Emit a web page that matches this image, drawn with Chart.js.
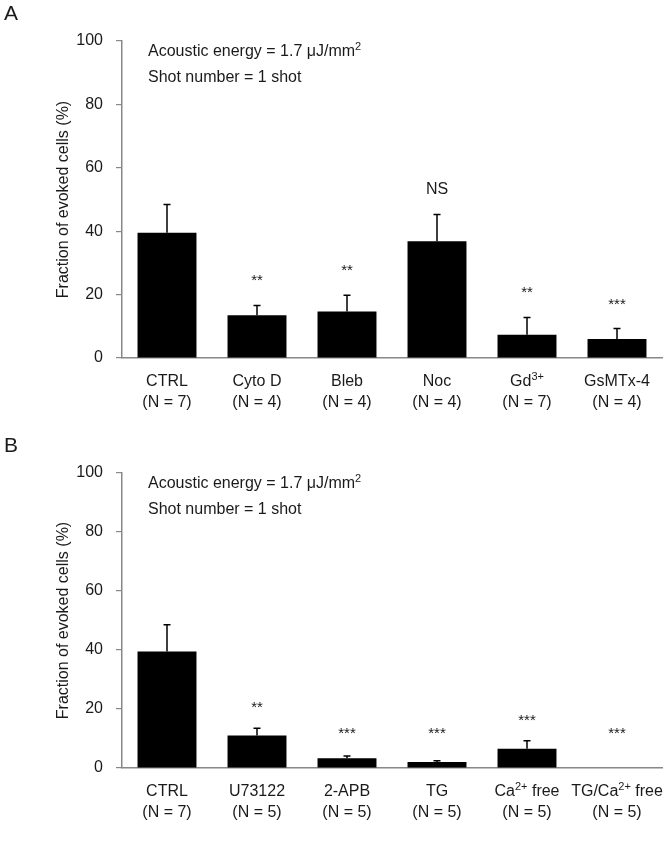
<!DOCTYPE html>
<html>
<head>
<meta charset="utf-8">
<script src="https://cdn.jsdelivr.net/npm/chart.js@4.4.1/dist/chart.umd.min.js"></script>
<style>
  body { margin: 0; background: #fff; }
  canvas { display: block; }
</style>
</head>
<body>
<canvas id="chartA" width="664" height="432"></canvas>
<canvas id="chartB" width="664" height="410"></canvas>
<script>
// values (mean and upper error, %)
const yTicks = [0, 20, 40, 60, 80, 100];

const categoriesA = ['CTRL', 'Cyto D', 'Bleb', 'Noc', 'Gd^3+', 'GsMTx-4'];
const countsA = ['(N = 7)', '(N = 4)', '(N = 4)', '(N = 4)', '(N = 7)', '(N = 4)'];
const meansA = [39.5, 13.5, 14.7, 36.8, 7.3, 6.0];
const errorsA = [8.9, 3.1, 5.1, 8.5, 5.5, 3.3];
const marksA = ['', '**', '**', 'NS', '**', '***'];

const categoriesB = ['CTRL', 'U73122', '2-APB', 'TG', 'Ca^2+ free', 'TG/Ca^2+ free'];
const countsB = ['(N = 7)', '(N = 5)', '(N = 5)', '(N = 5)', '(N = 5)', '(N = 5)'];
const meansB = [39.5, 11.0, 3.3, 2.0, 6.5, 0];
const errorsB = [9.1, 2.5, 0.8, 0.5, 2.7, 0];
const marksB = ['', '**', '***', '***', '***', '***'];

const notes = ['Acoustic energy = 1.7 μJ/mm^2', 'Shot number = 1 shot'];

const FONT = '"Liberation Sans", Arial, sans-serif';
const AXIS = '#888';
const TEXT = '#1a1a1a';

// text with "^xx" superscripts, y is the vertical middle
function drawRich(ctx, text, x, y, size, align) {
    const parts = text.split(/\^(\S+)/);
    const supSize = Math.round(size * 0.68);
    let total = 0;
    parts.forEach((p, i) => {
        ctx.font = (i % 2 ? supSize : size) + 'px ' + FONT;
        total += ctx.measureText(p).width;
    });
    let cx = align === 'center' ? x - total / 2 : x;
    ctx.textAlign = 'left';
    ctx.textBaseline = 'middle';
    parts.forEach((p, i) => {
        const sup = i % 2 === 1;
        ctx.font = (sup ? supSize : size) + 'px ' + FONT;
        ctx.fillText(p, cx, sup ? y - size * 0.33 : y);
        cx += ctx.measureText(p).width;
    });
}

function makeChart(id, letter, categories, counts, means, errors, marks, markGap) {
    const extras = {
        id: 'extras',
        afterDatasetsDraw(chart) {
            const { ctx, scales: { x, y } } = chart;
            ctx.save();
            ctx.strokeStyle = '#000';
            ctx.lineWidth = 1.5;
            errors.forEach((e, i) => {
                if (!e) return;
                const px = x.getPixelForValue(i);
                const top = y.getPixelForValue(means[i] + e);
                ctx.beginPath();
                ctx.moveTo(px, y.getPixelForValue(means[i]));
                ctx.lineTo(px, top);
                ctx.moveTo(px - 3.5, top);
                ctx.lineTo(px + 3.5, top);
                ctx.stroke();
            });
            ctx.restore();
        },
        afterDraw(chart) {
            const { ctx, scales: { x, y }, chartArea } = chart;
            ctx.save();
            ctx.fillStyle = TEXT;

            // panel letter
            ctx.font = '21px ' + FONT;
            ctx.textAlign = 'left';
            ctx.textBaseline = 'top';
            ctx.fillText(letter, 4, 4);

            // significance marks
            ctx.textAlign = 'center';
            ctx.textBaseline = 'alphabetic';
            marks.forEach((m, i) => {
                if (!m) return;
                const px = x.getPixelForValue(i);
                let base = y.getPixelForValue(means[i] + errors[i]) - markGap;
                base = Math.min(base, chartArea.bottom - 30);
                ctx.font = (m === 'NS' ? 16 : 15) + 'px ' + FONT;
                ctx.fillText(m, px, base);
            });

            // category labels
            categories.forEach((c, i) => {
                const px = x.getPixelForValue(i);
                drawRich(ctx, c, px, chartArea.bottom + 24, 16, 'center');
                drawRich(ctx, counts[i], px, chartArea.bottom + 45, 16, 'center');
            });

            // condition notes
            notes.forEach((n, i) => {
                drawRich(ctx, n, 148, chartArea.top + 11 + i * 26, 16, 'left');
            });
            ctx.restore();
        }
    };

    return new Chart(document.getElementById(id), {
        type: 'bar',
        data: {
            labels: categories,
            datasets: [{
                data: means,
                backgroundColor: '#000',
                borderWidth: 0,
                categoryPercentage: 1,
                barPercentage: 0.655
            }]
        },
        options: {
            responsive: false,
            animation: false,
            layout: { padding: { top: 41, right: 2, left: 0, bottom: 0 } },
            plugins: {
                legend: { display: false },
                tooltip: { enabled: false }
            },
            scales: {
                x: {
                    grid: { display: false },
                    border: { color: AXIS, width: 1.5 },
                    ticks: { display: false },
                    afterFit: s => { s.height = 74; }
                },
                y: {
                    min: yTicks[0],
                    max: yTicks[yTicks.length - 1],
                    afterBuildTicks: s => { s.ticks = yTicks.map(v => ({ value: v })); },
                    grid: { drawOnChartArea: false, drawTicks: true, tickLength: 6, color: AXIS, lineWidth: 1.2 },
                    border: { color: AXIS, width: 1.5 },
                    ticks: {
                        color: TEXT,
                        padding: 13,
                        font: { family: FONT, size: 16 }
                    },
                    title: {
                        display: true,
                        text: 'Fraction of evoked cells (%)',
                        color: TEXT,
                        font: { family: FONT, size: 16 },
                        padding: { top: 54, bottom: 0 }
                    },
                    afterFit: s => { s.width = 122; }
                }
            }
        },
        plugins: [extras]
    });
}

makeChart('chartA', 'A', categoriesA, countsA, meansA, errorsA, marksA, 20);
makeChart('chartB', 'B', categoriesB, countsB, meansB, errorsB, marksB, 16);
</script>
</body>
</html>
